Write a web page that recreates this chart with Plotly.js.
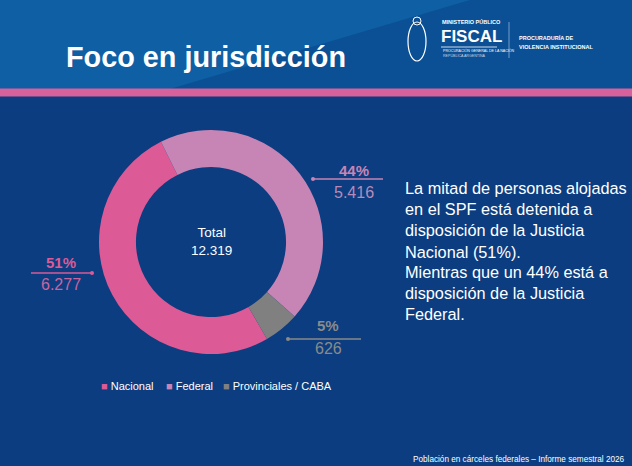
<!DOCTYPE html>
<html><head><meta charset="utf-8">
<script src="https://cdn.plot.ly/plotly-3.0.1.min.js"></script>
<style>html,body{margin:0;padding:0;background:#0b3d80;}#chart{width:632px;height:466px;}</style>
</head><body><div id="chart"></div>
<script>
const categories = ["Nacional", "Federal", "Provinciales / CABA"];
const values = [6277, 5416, 626];
const sliceColors = ["#dc5a96", "#c785b5", "#808080"];
const valueColors = ["#c9649f", "#b98ab8", "#8a8a8a"];
const pctColors = ["#dc5a96", "#c785b5", "#8a8a8a"];

const W = 632, H = 466;
const px = x => x / W, py = y => 1 - y / H;
const fmt = n => String(n).replace(/\B(?=(\d{3})+(?!\d))/g, ".");
const total = values.reduce((a, b) => a + b, 0);

const cx = 211, cy = 242, R = 112;
const FONT = "Liberation Sans, Arial, sans-serif";

const shapes = [
  {type:"rect", xref:"paper", yref:"paper", x0:0, x1:1, y0:py(89), y1:1, fillcolor:"#0b5094", line:{width:0}, layer:"below"},
  {type:"path", xref:"paper", yref:"paper", path:`M0,${py(0)} L${px(470)},${py(0)} L${px(170)},${py(89)} L0,${py(89)} Z`, fillcolor:"#0f5fa4", line:{width:0}, layer:"below"},
  {type:"rect", xref:"paper", yref:"paper", x0:0, x1:1, y0:py(96.5), y1:py(88.5), fillcolor:"#d6619b", line:{width:0}, layer:"below"},
  // logo
  {type:"circle", xref:"paper", yref:"paper", x0:px(408), x1:px(426), y0:py(61), y1:py(22), line:{color:"#ffffff", width:1.2}},
  {type:"circle", xref:"paper", yref:"paper", x0:px(413), x1:px(421), y0:py(25), y1:py(17), line:{color:"#ffffff", width:1}},
  {type:"line", xref:"paper", yref:"paper", x0:px(509), x1:px(509), y0:py(22), y1:py(58), line:{color:"#8fb0d8", width:0.8}},
  {type:"line", xref:"paper", yref:"paper", x0:px(441), x1:px(497), y0:py(47), y1:py(47), line:{color:"#ffffff", width:0.8}}
];

const leaders = [
  {x0:31, x1:92, y:273, dot:92},
  {x0:313, x1:383, y:179, dot:313},
  {x0:288, x1:361, y:339, dot:288}
];
const labelPos = [
  {x:61, yp:262, yv:284},
  {x:354, yp:170, yv:192},
  {x:328, yp:325, yv:348}
];
leaders.forEach((l, i) => {
  shapes.push({type:"line", xref:"paper", yref:"paper", x0:px(l.x0), x1:px(l.x1), y0:py(l.y), y1:py(l.y), line:{color:pctColors[i], width:1.5}});
  shapes.push({type:"circle", xref:"paper", yref:"paper", x0:px(l.dot-2), x1:px(l.dot+2), y0:py(l.y+2), y1:py(l.y-2), fillcolor:pctColors[i], line:{width:0}});
});

const annotations = [
  {text:"<b>Foco en jurisdicción</b>", x:px(64), y:py(57), xanchor:"left", yanchor:"middle", font:{size:28.8, color:"#ffffff", family:FONT}},
  {text:"<b>MINISTERIO PÚBLICO</b>", x:px(440), y:py(22), xanchor:"left", yanchor:"middle", font:{size:5.5, color:"#ffffff", family:FONT}},
  {text:"<b>FISCAL</b>", x:px(439), y:py(37), xanchor:"left", yanchor:"middle", font:{size:17, color:"#ffffff", family:FONT}},
  {text:"PROCURACIÓN GENERAL DE LA NACIÓN", x:px(441), y:py(51), xanchor:"left", yanchor:"middle", font:{size:3.6, color:"#ffffff", family:FONT}},
  {text:"REPÚBLICA ARGENTINA", x:px(441), y:py(56), xanchor:"left", yanchor:"middle", font:{size:3.6, color:"#c8d6ea", family:FONT}},
  {text:"<b>PROCURADURÍA DE</b>", x:px(517), y:py(38), xanchor:"left", yanchor:"middle", font:{size:5.5, color:"#ffffff", family:FONT}},
  {text:"<b>VIOLENCIA INSTITUCIONAL</b>", x:px(517), y:py(47), xanchor:"left", yanchor:"middle", font:{size:5.5, color:"#ffffff", family:FONT}},
  {text:"Total<br>" + fmt(total), x:px(cx), y:py(241), xanchor:"center", yanchor:"middle", font:{size:13.5, color:"#ffffff", family:FONT}},
  {text:"La mitad de personas alojadas<br>en el SPF está detenida a<br>disposición de la Justicia<br>Nacional (51%).", x:px(403), y:py(177), xanchor:"left", yanchor:"top", align:"left", font:{size:16.3, color:"#ffffff", family:FONT}},
  {text:"Mientras que un 44% está a<br>disposición de la Justicia<br>Federal.", x:px(403), y:py(261), xanchor:"left", yanchor:"top", align:"left", font:{size:16.3, color:"#ffffff", family:FONT}},
  {text:"Población en cárceles federales – Informe semestral 2026", x:px(627), y:py(459), xanchor:"right", yanchor:"middle", font:{size:8.2, color:"#ffffff", family:FONT}}
];
values.forEach((v, i) => {
  const p = labelPos[i];
  annotations.push({text:"<b>" + Math.round(v / total * 100) + "%</b>", x:px(p.x), y:py(p.yp), xanchor:"center", yanchor:"middle", font:{size:15, color:pctColors[i], family:FONT}});
  annotations.push({text:fmt(v), x:px(p.x), y:py(p.yv), xanchor:"center", yanchor:"middle", font:{size:16, color:valueColors[i], family:FONT}});
});
const legendX = [99, 164, 221];
categories.forEach((c, i) => {
  annotations.push({text:`<span style="color:${sliceColors[i]}">■</span> ${c}`, x:px(legendX[i]), y:py(386), xanchor:"left", yanchor:"middle", font:{size:11, color:"#ffffff", family:FONT}});
});
annotations.forEach(a => { a.xref = "paper"; a.yref = "paper"; a.showarrow = false; });

const data = [{
  type:"pie", labels:categories, values:values, sort:false, direction:"clockwise", rotation:150,
  hole:0.67, textinfo:"none", hoverinfo:"label+value+percent",
  marker:{colors:sliceColors, line:{color:"#0b3d80", width:0}},
  domain:{x:[px(cx - R), px(cx + R)], y:[py(cy + R), py(cy - R)]},
  showlegend:false
}];

const layout = {
  width:W, height:H, margin:{l:0, r:0, t:0, b:0},
  paper_bgcolor:"#0b3d80", plot_bgcolor:"#0b3d80",
  showlegend:false, shapes:shapes, annotations:annotations,
  font:{family:FONT, color:"#ffffff"}
};
Plotly.newPlot("chart", data, layout, {displayModeBar:false, staticPlot:true});
</script></body></html>
